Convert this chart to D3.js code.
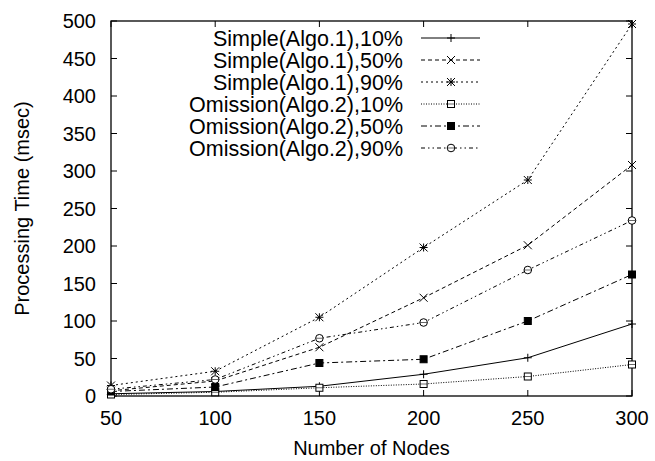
<!DOCTYPE html>
<html><head><meta charset="utf-8">
<script src="https://cdn.jsdelivr.net/npm/d3@7"></script>
<style>body{margin:0;background:#fff}svg{display:block}text{font-family:"Liberation Sans",Arial,sans-serif;fill:#000}</style>
</head><body>
<svg id="c" width="655" height="461"></svg>
<script>
const nodes = [50, 100, 150, 200, 250, 300];
const seriesNames = ["Simple(Algo.1),10%","Simple(Algo.1),50%","Simple(Algo.1),90%","Omission(Algo.2),10%","Omission(Algo.2),50%","Omission(Algo.2),90%"];
const simple10 = [3, 6, 13, 29, 51, 96];
const simple50 = [7, 20, 65, 131, 201, 308];
const simple90 = [14, 33, 105, 198, 288, 496];
const omission10 = [2, 5, 11, 16, 26, 42];
const omission50 = [6, 12, 44, 49, 100, 162];
const omission90 = [9, 22, 77, 98, 168, 234];
const xTicks = [50, 100, 150, 200, 250, 300];
const yTicks = [0, 50, 100, 150, 200, 250, 300, 350, 400, 450, 500];

const values = [simple10, simple50, simple90, omission10, omission50, omission90];
const dashes = [null, "4,3", "2,3", "1,1.5", "6,3,2,3", "4,3,1.5,3,1.5,3"];
const markers = ["plus","cross","star","square","fsquare","circle"];

const svg = d3.select("#c");
const L=111, R=632, T=21, B=396;
const FS=20;
const x = d3.scaleLinear().domain([50,300]).range([L,R]);
const y = d3.scaleLinear().domain([0,500]).range([B,T]);

const g = svg.append("g");
xTicks.forEach(v=>{
  g.append("line").attr("x1",x(v)).attr("x2",x(v)).attr("y1",B).attr("y2",B-6).attr("stroke","#000");
  g.append("line").attr("x1",x(v)).attr("x2",x(v)).attr("y1",T).attr("y2",T+6).attr("stroke","#000");
  g.append("text").attr("x",x(v)).attr("y",B+22).attr("dy","0.35em").attr("text-anchor","middle").attr("font-size",FS).text(v);
});
yTicks.forEach(v=>{
  g.append("line").attr("x1",L).attr("x2",L+6).attr("y1",y(v)).attr("y2",y(v)).attr("stroke","#000");
  g.append("line").attr("x1",R).attr("x2",R-6).attr("y1",y(v)).attr("y2",y(v)).attr("stroke","#000");
  g.append("text").attr("x",L-15).attr("y",y(v)).attr("dy","0.35em").attr("text-anchor","end").attr("font-size",FS).text(v);
});
svg.append("rect").attr("x",L).attr("y",T).attr("width",R-L).attr("height",B-T).attr("fill","none").attr("stroke","#000").attr("stroke-width",1.3);

svg.append("text").attr("x",(L+R)/2).attr("y",448).attr("dy","0.35em").attr("text-anchor","middle").attr("font-size",FS).text("Number of Nodes");
svg.append("text").attr("transform",`translate(22,${(T+B)/2}) rotate(-90)`).attr("dy","0.35em").attr("text-anchor","middle").attr("font-size",FS).text("Processing Time (msec)");

function marker(sel, type, cx, cy){
  const s=4;
  const st={stroke:"#000","stroke-width":1,fill:"none"};
  const add=(tag,attrs)=>{const e=sel.append(tag);Object.entries(Object.assign({},st,attrs)).forEach(([k,v])=>e.attr(k,v));return e;};
  if(type==="plus"){add("path",{d:`M${cx-s},${cy}H${cx+s}M${cx},${cy-s}V${cy+s}`});}
  else if(type==="cross"){add("path",{d:`M${cx-s},${cy-s}L${cx+s},${cy+s}M${cx-s},${cy+s}L${cx+s},${cy-s}`});}
  else if(type==="star"){add("path",{d:`M${cx-s},${cy}H${cx+s}M${cx},${cy-s}V${cy+s}M${cx-s},${cy-s}L${cx+s},${cy+s}M${cx-s},${cy+s}L${cx+s},${cy-s}`});}
  else if(type==="square"){add("rect",{x:cx-3.5,y:cy-3.5,width:7,height:7,fill:"#fff"});add("path",{d:`M${cx-3.5},${cy}H${cx+3.5}`,"stroke-width":0.6});}
  else if(type==="fsquare"){add("rect",{x:cx-3.5,y:cy-3.5,width:7,height:7,fill:"#000"});}
  else if(type==="circle"){add("circle",{cx:cx,cy:cy,r:3.8,fill:"#fff"});add("path",{d:`M${cx-3.8},${cy}H${cx+3.8}`,"stroke-width":0.6});}
}

const line = d3.line().x((d,i)=>x(nodes[i])).y(d=>y(d));
values.forEach((vals,k)=>{
  const p = svg.append("path").attr("d",line(vals)).attr("fill","none").attr("stroke","#000").attr("stroke-width",1);
  if(dashes[k]) p.attr("stroke-dasharray",dashes[k]);
  vals.forEach((v,i)=>marker(svg,markers[k],x(nodes[i]),y(v)));
});

seriesNames.forEach((name,k)=>{
  const ly = 38 + k*22;
  svg.append("text").attr("x",403).attr("y",ly).attr("dy","0.35em").attr("text-anchor","end").attr("font-size",21.5).text(name);
  const p = svg.append("line").attr("x1",421).attr("x2",480).attr("y1",ly).attr("y2",ly).attr("stroke","#000").attr("stroke-width",1);
  if(dashes[k]) p.attr("stroke-dasharray",dashes[k]);
  marker(svg,markers[k],451,ly);
});
</script>
</body></html>
